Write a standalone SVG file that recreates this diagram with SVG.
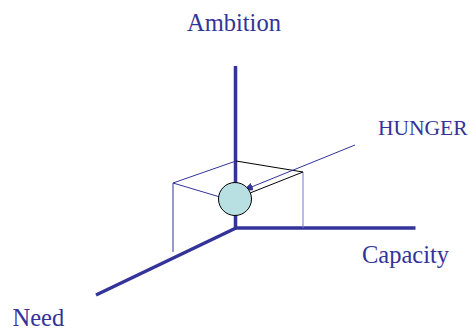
<svg xmlns="http://www.w3.org/2000/svg" width="470" height="328" viewBox="0 0 470 328">
<defs>
<style>
.lbl{font-family:"Liberation Serif","Times New Roman",serif;fill:#333399}
.axis{stroke:#333399;stroke-width:3.5;fill:none}
.thin{stroke:#333399;stroke-width:1;fill:none}
</style>
<marker id="ah" markerWidth="10" markerHeight="8" refX="9" refY="4" orient="auto" markerUnits="userSpaceOnUse">
<path d="M0,0 L10,4 L0,8 z" fill="#333399"/>
</marker>
</defs>
<rect width="470" height="328" fill="#fff"/>
<g id="connectors">
<line class="axis" x1="235.5" y1="66" x2="235.5" y2="228"/>
<line class="axis" x1="234" y1="228" x2="415.5" y2="228"/>
<line class="axis" x1="236" y1="228" x2="96" y2="295"/>
<line class="thin" x1="173" y1="183" x2="236" y2="161"/>
<line stroke="#000" stroke-width="1" x1="236" y1="161" x2="303" y2="172"/>
<line class="thin" x1="173" y1="183" x2="173" y2="252"/>
<line class="thin" x1="173" y1="183" x2="220" y2="197"/>
<line stroke="#7777cc" stroke-width="1" x1="303" y1="172" x2="303" y2="228"/>
<line stroke="#000" stroke-width="1" x1="303" y1="172" x2="250" y2="193"/>
<line class="thin" x1="355" y1="145" x2="244" y2="190" marker-end="url(#ah)"/>
</g>
<g id="hunger-ball">
<circle cx="235" cy="199" r="16.5" fill="#b8e0e2" stroke="#000" stroke-width="1"/>
</g>
<g id="ambition"><text class="lbl" x="187" y="31" font-size="24.5">Ambition</text></g>
<g id="hunger"><text class="lbl" x="378" y="135" font-size="21.5">HUNGER</text></g>
<g id="capacity"><text class="lbl" x="362" y="263" font-size="24.5">Capacity</text></g>
<g id="need"><text class="lbl" x="12.5" y="326" font-size="24.5">Need</text></g>
</svg>
